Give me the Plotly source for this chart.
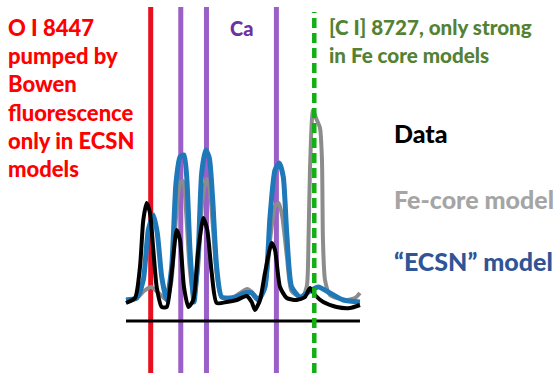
import plotly.graph_objects as go

# Wavelength grid (Angstrom) and normalised flux for each spectrum
data_wave = [8404.0, 8419.5, 8428.0, 8433.7, 8439.5, 8445.2, 8450.9, 8456.7, 8465.3, 8473.9,
             8482.4, 8491.0, 8496.7, 8503.5, 8511.0, 8519.5, 8528.1, 8536.7, 8543.5, 8551.1,
             8559.6, 8576.8, 8594.0, 8611.1, 8619.7, 8625.4, 8634.0, 8642.5, 8654.0, 8659.7,
             8668.3, 8679.8, 8696.9, 8711.2, 8719.7, 8728.3, 8742.6, 8765.5, 8788.4, 8805.5]
data_flux = [0.18, 0.23, 0.54, 1.01, 1.18, 1.08, 0.71, 0.34, 0.14, 0.14,
             0.48, 0.91, 0.81, 0.34, 0.14, 0.21, 0.71, 1.03, 0.91, 0.48,
             0.18, 0.19, 0.21, 0.25, 0.19, 0.11, 0.21, 0.48, 0.78, 0.71,
             0.34, 0.23, 0.21, 0.24, 0.33, 0.26, 0.19, 0.14, 0.13, 0.16]

ecsn_wave = [8404.0, 8422.4, 8433.7, 8442.3, 8450.9, 8457.7, 8465.3, 8473.9, 8482.4, 8489.8,
             8496.7, 8503.5, 8508.2, 8513.8, 8520.7, 8528.1, 8533.9, 8540.8, 8547.0, 8552.8,
             8559.6, 8568.2, 8588.1, 8608.2, 8619.7, 8631.0, 8642.5, 8651.1, 8659.7, 8667.1,
             8673.9, 8679.8, 8688.3, 8702.6, 8716.8, 8734.0, 8754.1, 8777.0, 8805.5]
ecsn_flux = [0.21, 0.23, 0.41, 0.91, 1.06, 0.88, 0.44, 0.21, 0.54, 1.38,
             1.64, 1.66, 1.44, 0.71, 0.19, 0.71, 1.48, 1.71, 1.63, 1.21,
             0.54, 0.24, 0.23, 0.28, 0.28, 0.21, 0.34, 1.04, 1.51, 1.58,
             1.44, 0.88, 0.34, 0.24, 0.29, 0.34, 0.28, 0.21, 0.19]

fecore_wave = [8404.0, 8422.4, 8435.0, 8447.0, 8460.0, 8473.9, 8482.0, 8490.0, 8497.0, 8502.0,
               8507.0, 8513.0, 8520.7, 8528.0, 8535.0, 8542.0, 8547.0, 8553.0, 8560.0, 8568.0,
               8588.0, 8612.0, 8620.0, 8631.0, 8642.0, 8652.0, 8660.0, 8666.0, 8672.0, 8680.0,
               8688.0, 8702.0, 8707.7, 8714.6, 8717.2, 8719.7, 8724.9, 8730.0, 8736.9, 8740.3,
               8742.0, 8745.5, 8754.1, 8779.8, 8797.0, 8805.5]
fecore_flux = [0.21, 0.23, 0.30, 0.34, 0.28, 0.21, 0.40, 1.05, 1.38, 1.40,
               1.10, 0.55, 0.20, 0.55, 1.20, 1.42, 1.35, 0.95, 0.45, 0.24,
               0.24, 0.32, 0.29, 0.22, 0.32, 0.85, 1.15, 1.18, 1.05, 0.65,
               0.30, 0.24, 0.24, 0.36, 0.81, 1.51, 2.11, 2.03, 1.93, 1.61,
               0.81, 0.41, 0.26, 0.21, 0.23, 0.28]

# Line identifications (Angstrom)
oi_line = 8446.4
ca_lines = [8498.0, 8542.1, 8662.1]
ci_line = 8727.1

X_RANGE = [8187.8, 9143.6]
Y_RANGE = [-0.52, 3.21]
W, H = 557, 373

fig = go.Figure()

fig.add_trace(go.Scatter(x=fecore_wave, y=fecore_flux, mode="lines",
                         line=dict(color="#8c8c8c", width=4, shape="spline", smoothing=0.6)))
fig.add_trace(go.Scatter(x=ecsn_wave, y=ecsn_flux, mode="lines",
                         line=dict(color="#1f78b8", width=5, shape="spline", smoothing=0.6)))
fig.add_trace(go.Scatter(x=data_wave, y=data_flux, mode="lines",
                         line=dict(color="#000000", width=4, shape="spline", smoothing=0.6)))

# Vertical line markers
fig.add_shape(type="line", x0=oi_line, x1=oi_line, y0=Y_RANGE[0], y1=3.14,
              line=dict(color="#e8101e", width=5), layer="below")
for lam in ca_lines:
    fig.add_shape(type="line", x0=lam, x1=lam, y0=Y_RANGE[0], y1=3.14,
                  line=dict(color="#9b5fc8", width=5), layer="below")
# Continuum zero level
fig.add_shape(type="line", x0=data_wave[0], x1=data_wave[-1], y0=0, y1=0,
              line=dict(color="#000000", width=3), layer="below")
fig.add_shape(type="line", x0=ci_line, x1=ci_line, y0=Y_RANGE[0], y1=3.09,
              line=dict(color="#12b012", width=4.5, dash="10px,5px"), layer="above")

FONT = "Lato"


def label(text, x_px, baseline_px, size, color):
    fig.add_annotation(text=text, xref="paper", yref="paper",
                       x=x_px / W, y=1 - (baseline_px - 0.36 * size) / H,
                       xanchor="left", yanchor="middle", showarrow=False,
                       font=dict(family=FONT, size=size, color=color, weight=900))


red_lines = ["O I 8447", "pumped by", "Bowen", "fluorescence", "only in ECSN", "models"]
red_base = [35, 63, 91, 120, 148, 176]
for t, b in zip(red_lines, red_base):
    label(t, 6, b, 22, "#ff0000")

label("Ca", 228, 35, 20, "#7030a0")
label("[C I] 8727, only strong", 327, 34, 20.6, "#548235")
label("in Fe core models", 327, 62, 20.6, "#548235")
label("Data", 392, 142, 25, "#000000")
label("Fe-core model", 392, 208, 25, "#a5a5a5")
label("\u201cECSN\u201d model", 392, 270, 25, "#2f5597")

fig.update_layout(width=W, height=H, margin=dict(l=0, r=0, t=0, b=0),
                  paper_bgcolor="white", plot_bgcolor="white", showlegend=False,
                  xaxis=dict(range=X_RANGE, visible=False, fixedrange=True),
                  yaxis=dict(range=Y_RANGE, visible=False, fixedrange=True))

fig.write_html("out.html")
